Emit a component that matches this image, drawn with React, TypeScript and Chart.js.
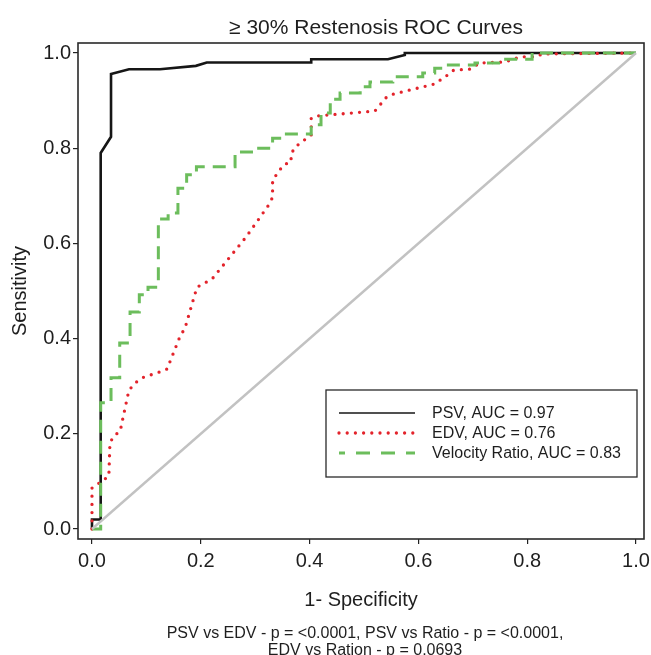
import { useEffect, useRef } from 'react';
import { Chart, registerables } from 'chart.js';

Chart.register(...registerables);

const W = 651;
const H = 655;
const FONT = "'Liberation Sans', Arial, Helvetica, sans-serif";

const chartTitle = '≥ 30% Restenosis ROC Curves';
const xTitle = '1- Specificity';
const yTitle = 'Sensitivity';
const footnoteLines = [
  'PSV vs EDV - p = <0.0001, PSV vs Ratio - p = <0.0001,',
  'EDV vs Ration - p = 0.0693',
];
const tickValues = [0, 0.2, 0.4, 0.6, 0.8, 1.0];

const seriesLabels = ['PSV, AUC = 0.97', 'EDV, AUC = 0.76', 'Velocity Ratio, AUC = 0.83'];

// PSV (black solid)
const psvFpr = [0, 0, 0.015, 0.016, 0.035, 0.035, 0.068, 0.125, 0.191, 0.211, 0.403, 0.403, 0.544, 0.575, 0.575, 1.0];
const psvTpr = [0, 0.02, 0.02, 0.79, 0.824, 0.956, 0.966, 0.966, 0.973, 0.98, 0.98, 0.987, 0.987, 0.996, 1.0, 1.0];

// EDV (red dotted)
const edvFpr = [0, 0, 0.031, 0.033, 0.040, 0.052, 0.055, 0.068, 0.082, 0.095, 0.125, 0.138, 0.162, 0.171, 0.184, 0.193, 0.208, 0.222, 0.283, 0.325, 0.332, 0.332, 0.352, 0.366, 0.366, 0.374, 0.403, 0.403, 0.416, 0.520, 0.542, 0.555, 0.630, 0.654, 0.665, 0.695, 0.713, 0.759, 0.788, 0.818, 0.827, 1.0];
const edvTpr = [0, 0.086, 0.111, 0.181, 0.195, 0.206, 0.223, 0.292, 0.309, 0.319, 0.330, 0.336, 0.405, 0.422, 0.473, 0.508, 0.517, 0.527, 0.613, 0.681, 0.697, 0.733, 0.765, 0.771, 0.788, 0.803, 0.828, 0.863, 0.868, 0.878, 0.908, 0.914, 0.935, 0.954, 0.964, 0.966, 0.979, 0.981, 0.992, 0.992, 0.998, 1.0];

// Velocity ratio (green dashed, step function: horizontal then vertical)
const ratioFpr = [0, 0.016, 0.035, 0.051, 0.070, 0.087, 0.103, 0.122, 0.140, 0.158, 0.174, 0.192, 0.263, 0.296, 0.332, 0.352, 0.403, 0.421, 0.438, 0.456, 0.493, 0.511, 0.553, 0.608, 0.630, 0.645, 0.704, 0.756, 0.809, 1.0];
const ratioTpr = [0, 0.265, 0.318, 0.391, 0.456, 0.492, 0.508, 0.651, 0.664, 0.716, 0.744, 0.761, 0.792, 0.800, 0.821, 0.830, 0.849, 0.874, 0.903, 0.916, 0.929, 0.939, 0.950, 0.958, 0.968, 0.975, 0.979, 0.987, 1.0, 1.0];

const refFpr = [0, 1];
const refTpr = [0, 1];

const zip = (xs: number[], ys: number[]) => xs.map((x, i) => ({ x, y: ys[i] }));

const TEXT = '#1e1e1e';

const framePlugin = {
  id: 'frameAndText',
  afterDatasetsDraw(chart: any) {
    const { ctx, chartArea } = chart;
    ctx.save();
    ctx.strokeStyle = '#2a2a2a';
    ctx.lineWidth = 1.6;
    ctx.strokeRect(chartArea.left, chartArea.top, chartArea.right - chartArea.left, chartArea.bottom - chartArea.top);

    // legend box
    const bx = chartArea.right - 318;
    const by = chartArea.bottom - 149;
    const bw = 311;
    const bh = 87;
    ctx.fillStyle = '#fff';
    ctx.fillRect(bx, by, bw, bh);
    ctx.strokeStyle = '#2a2a2a';
    ctx.lineWidth = 1.3;
    ctx.strokeRect(bx, by, bw, bh);
    const ds = chart.data.datasets;
    for (let i = 0; i < 3; i++) {
      const d = ds[i];
      const yy = by + 23 + i * 20;
      const x0 = bx + 13;
      const x1 = bx + 89;
      ctx.save();
      ctx.beginPath();
      ctx.strokeStyle = d.borderColor;
      if (i === 0) {
        ctx.lineWidth = 1.5;
        ctx.setLineDash([]);
      } else if (i === 1) {
        ctx.lineWidth = 3.3;
        ctx.lineCap = 'round';
        ctx.setLineDash([0, 8.2]);
      } else {
        ctx.lineWidth = 3;
        ctx.setLineDash([14, 11]);
        ctx.lineDashOffset = 8;
      }
      ctx.moveTo(x0, yy);
      ctx.lineTo(x1, yy);
      ctx.stroke();
      ctx.restore();
      ctx.fillStyle = TEXT;
      ctx.font = `16px ${FONT}`;
      ctx.textAlign = 'left';
      ctx.textBaseline = 'middle';
      ctx.fillText(d.label, bx + 106, yy + 1);
    }

    // title
    ctx.fillStyle = TEXT;
    ctx.font = `21px ${FONT}`;
    ctx.textAlign = 'center';
    ctx.textBaseline = 'alphabetic';
    ctx.fillText(chartTitle, 376, 34);

    // footnote
    ctx.font = `16px ${FONT}`;
    footnoteLines.forEach((t, i) => {
      ctx.fillText(t, 365, 637.5 + i * 17.3);
    });
    ctx.restore();
  },
};

export default function App() {
  const ref = useRef<HTMLCanvasElement>(null);
  useEffect(() => {
    const canvas = ref.current;
    if (!canvas) return;
    const chart = new Chart(canvas, {
      type: 'line',
      data: {
        datasets: [
          {
            label: seriesLabels[0],
            data: zip(psvFpr, psvTpr),
            borderColor: '#161616',
            borderWidth: 2.6,
            pointRadius: 0,
            tension: 0,
            order: 3,
          },
          {
            label: seriesLabels[1],
            data: zip(edvFpr, edvTpr),
            borderColor: '#e3232b',
            borderWidth: 3.3,
            borderDash: [0, 8.2],
            borderCapStyle: 'round',
            pointRadius: 0,
            tension: 0,
            order: 2,
          },
          {
            label: seriesLabels[2],
            data: zip(ratioFpr, ratioTpr),
            borderColor: '#6cbd5c',
            borderWidth: 3,
            borderDash: [13, 8],
            stepped: 'before',
            pointRadius: 0,
            tension: 0,
            order: 1,
          },
          {
            label: 'Reference',
            data: zip(refFpr, refTpr),
            borderColor: '#c2c2c2',
            borderWidth: 2.4,
            pointRadius: 0,
            tension: 0,
            order: 0,
          },
        ] as any,
      },
      options: {
        responsive: false,
        devicePixelRatio: 1,
        animation: false,
        layout: { padding: { left: 0, top: 43, right: 7, bottom: 0 } },
        plugins: {
          legend: { display: false },
          tooltip: { enabled: false },
          title: { display: false },
        },
        scales: {
          x: {
            type: 'linear',
            min: -0.0257,
            max: 1.0147,
            afterBuildTicks: (scale: any) => {
              scale.ticks = tickValues.map((v) => ({ value: v }));
            },
            afterFit: (scale: any) => {
              scale.height = 116;
              scale.paddingLeft = 0;
              scale.paddingRight = 0;
            },
            grid: { display: true, drawOnChartArea: false, drawTicks: true, tickLength: 5, color: '#222', lineWidth: 1.2 },
            border: { display: false },
            ticks: {
              autoSkip: false,
              maxRotation: 0,
              padding: 5,
              color: TEXT,
              font: { family: FONT, size: 20 },
              callback: (v: any) => Number(v).toFixed(1),
            },
            title: {
              display: true,
              text: xTitle,
              color: TEXT,
              font: { family: FONT, size: 20 },
              padding: { top: 0, bottom: 43 },
            },
          },
          y: {
            type: 'linear',
            min: -0.021,
            max: 1.021,
            afterBuildTicks: (scale: any) => {
              scale.ticks = tickValues.map((v) => ({ value: v }));
            },
            afterFit: (scale: any) => {
              scale.width = 78;
              scale.paddingTop = 0;
              scale.paddingBottom = 0;
            },
            grid: { display: true, drawOnChartArea: false, drawTicks: true, tickLength: 5, color: '#222', lineWidth: 1.2 },
            border: { display: false },
            ticks: {
              autoSkip: false,
              padding: 2,
              color: TEXT,
              font: { family: FONT, size: 20 },
              callback: (v: any) => Number(v).toFixed(1),
            },
            title: {
              display: true,
              text: yTitle,
              color: TEXT,
              font: { family: FONT, size: 20 },
              padding: { top: 8, bottom: 0 },
            },
          },
        },
      },
      plugins: [framePlugin],
    });
    return () => chart.destroy();
  }, []);
  return (
    <div style={{ position: 'fixed', left: 0, top: 0, width: W, height: H, background: '#fff' }}>
      <canvas ref={ref} width={W} height={H} style={{ display: 'block', width: W, height: H }} />
    </div>
  );
}
